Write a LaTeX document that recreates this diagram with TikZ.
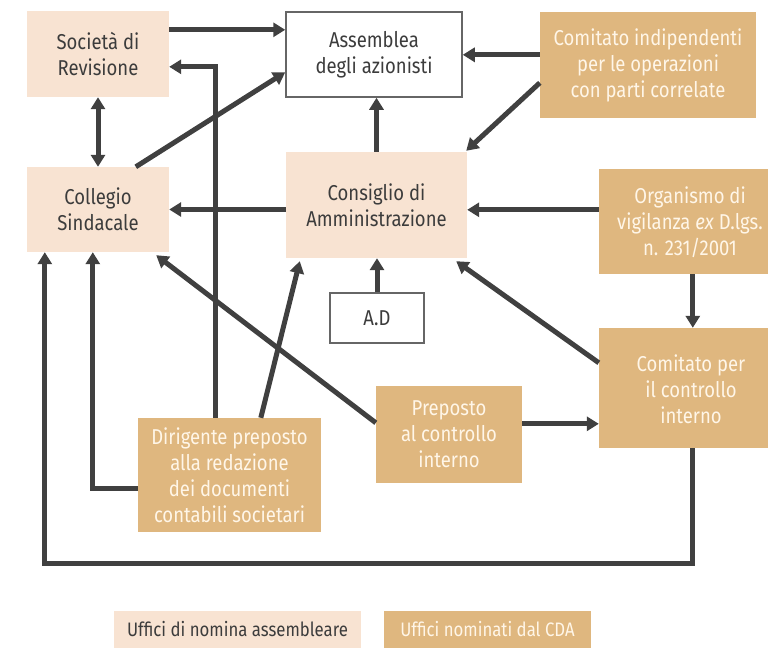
\documentclass[tikz,border=0pt]{standalone}
\usepackage{fontspec}
\setmainfont[FakeStretch=0.86]{Fira Sans}
\usetikzlibrary{arrows.meta,calc}
\definecolor{peach}{HTML}{F8E3D2}
\definecolor{tan}{HTML}{DFB77F}
\definecolor{linec}{HTML}{404040}
\definecolor{darktxt}{HTML}{3C3C3C}
\definecolor{lighttxt}{HTML}{FFF6E8}
\definecolor{bordc}{HTML}{666666}
\tikzset{
  box/.style={inner sep=0pt, align=center, font=\fontsize{21.5}{26}\selectfont},
  peachbox/.style={box, fill=peach, text=darktxt},
  tanbox/.style={box, fill=tan, text=lighttxt},
  whitebox/.style={box, fill=white, draw=bordc, line width=1.5pt, text=darktxt},
  txt/.style={inner sep=0pt, align=center, font=\fontsize{21.5}{26}\selectfont},
  legfont/.style={font=\fontsize{19.5}{24}\selectfont},
  arr/.style={draw=linec, line width=5pt, -{Triangle[length=12pt,width=14pt]}},
  darr/.style={draw=linec, line width=5pt, {Triangle[length=12pt,width=14pt]}-{Triangle[length=12pt,width=14pt]}},
}
\begin{document}
\begin{tikzpicture}[x=1pt,y=-1pt]
\useasboundingbox (0,0) rectangle (769,648);
% boxes
\node[peachbox, minimum width=142pt, minimum height=86pt] (soc) at (98,54) {Società di\\Revisione};
\node[whitebox, minimum width=176pt, minimum height=85pt] (ass) at (374,54.5) {Assemblea\\degli azionisti};
\node[tanbox, minimum width=216pt, minimum height=106pt] (cip) at (648,65) {Comitato indipendenti\\per le operazioni\\con parti correlate};
\node[peachbox, minimum width=142pt, minimum height=85pt] (col) at (98,209.5) {Collegio\\Sindacale};
\node[peachbox, minimum width=181pt, minimum height=106pt] (cda) at (376.5,205) {Consiglio di\\Amministrazione};
\node[tanbox, minimum width=169pt, minimum height=105pt] (odv) at (683.5,221.5) {};
\node[txt, text=lighttxt] (odvt) at (690,222) {Organismo di\\vigilanza \textit{ex} D.lgs.\\n. 231/2001};
\node[whitebox, minimum width=94pt, minimum height=50pt] (ad) at (377,318) {A.D};
\node[tanbox, minimum width=169pt, minimum height=120pt] (cci) at (683.5,388) {};
\node[txt, text=lighttxt] (ccit) at (691,389) {Comitato per\\il controllo\\interno};
\node[tanbox, minimum width=146pt, minimum height=97pt] (pci) at (449,434.5) {Preposto\\al controllo\\interno};
\node[tanbox, minimum width=183pt, minimum height=114pt] (dir) at (229.5,475) {Dirigente preposto\\alla redazione\\dei documenti\\contabili societari};
% legend
\node[peachbox, legfont, minimum width=247pt, minimum height=37pt] (leg1) at (237.5,629.5) {Uffici di nomina assembleare};
\node[tanbox, legfont, minimum width=207pt, minimum height=37pt] (leg2) at (487.5,629.5) {Uffici nominati dal CDA};
% connectors
\draw[arr] ($(soc.north east)+(0,19)$) coordinate (a1) -- (a1 -| ass.west);
\draw[arr] ($(dir.north west)+(78,0)$) |- ($(soc.north east)+(0,56)$);
\draw[darr] (soc.south) -- (col.north);
\draw[arr] ($(col.north west)+(109,0)$) -- ($(ass.north west)+(0,61)$);
\draw[arr] (col.east -| cda.west) -- (col.east);
\draw[arr] (cda.north) -- (cda.north |- ass.south);
\draw[arr] ($(cip.north west)+(0,43)$) coordinate (a7) -- (a7 -| ass.east);
\draw[arr] ($(cip.north west)+(0,71)$) -- ($(cda.north east)+(-1,-1)$);
\draw[arr] ($(odv.north west)+(0,41)$) coordinate (a9) -- (a9 -| cda.east);
\draw[arr] ($(odv.south west)+(94,0)$) coordinate (a10) -- (a10 |- cci.north);
\draw[arr] (ad.north) -- (ad.north |- cda.south);
\draw[arr] ($(cci.north west)+(0,35)$) -- ($(cda.south east)+(-11,3)$);
\draw[arr] ($(pci.north west)+(0,37)$) -- ($(col.south east)+(-13,3)$);
\draw[arr] ($(dir.north west)+(123,0)$) -- ($(cda.south west)+(14,3)$);
\draw[arr] ($(dir.north west)+(0,71)$) -| ($(col.south west)+(66,0)$);
\draw[arr] ($(cci.south west)+(94,0)$) -- ++(0,115) -| ($(col.south west)+(18,0)$);
\draw[arr] ($(pci.north east)+(0,38)$) coordinate (a17) -- (a17 -| cci.west);
\end{tikzpicture}
\end{document}
